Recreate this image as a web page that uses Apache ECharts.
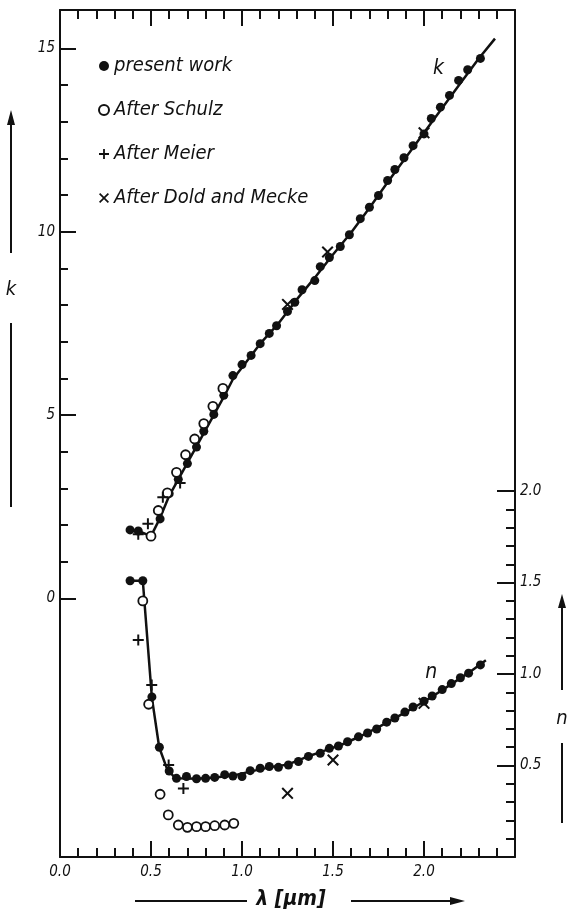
<!DOCTYPE html>
<html>
<head>
<meta charset="utf-8">
<title>k and n versus wavelength</title>
<script src="https://cdn.jsdelivr.net/npm/echarts@6/dist/echarts.min.js"></script>
<style>
  html, body { margin: 0; padding: 0; background: #fff; }
  #chart { width: 570px; height: 920px; }
</style>
</head>
<body>
<div id="chart"></div>
<script>
// wavelength in µm on x, k on the left scale, n on the right scale

// present work (filled dots)
const kPresent = [
  [0.385, 1.87], [0.43, 1.84], [0.50, 1.70], [0.55, 2.17], [0.60, 2.86], [0.65, 3.25],
  [0.70, 3.68], [0.75, 4.13], [0.79, 4.56], [0.845, 5.02], [0.90, 5.54], [0.95, 6.08],
  [1.00, 6.38], [1.05, 6.63], [1.10, 6.95], [1.15, 7.23], [1.19, 7.44], [1.25, 7.83],
  [1.29, 8.08], [1.33, 8.42], [1.40, 8.67], [1.43, 9.05], [1.48, 9.30], [1.54, 9.60],
  [1.59, 9.92], [1.65, 10.36], [1.70, 10.67], [1.75, 10.99], [1.80, 11.40], [1.84, 11.70],
  [1.89, 12.02], [1.94, 12.35], [2.00, 12.67], [2.04, 13.09], [2.09, 13.40], [2.14, 13.72],
  [2.19, 14.13], [2.24, 14.42], [2.31, 14.73]
];
const nPresent = [
  [0.385, 1.51], [0.455, 1.51], [0.505, 0.875], [0.546, 0.60], [0.60, 0.47], [0.64, 0.43],
  [0.695, 0.44], [0.75, 0.428], [0.80, 0.43], [0.85, 0.435], [0.905, 0.45], [0.95, 0.443],
  [1.00, 0.44], [1.045, 0.472], [1.10, 0.485], [1.15, 0.495], [1.20, 0.49], [1.255, 0.503],
  [1.31, 0.522], [1.365, 0.55], [1.43, 0.567], [1.48, 0.594], [1.53, 0.607], [1.58, 0.63],
  [1.64, 0.657], [1.69, 0.678], [1.74, 0.70], [1.795, 0.737], [1.84, 0.76], [1.895, 0.792],
  [1.94, 0.82], [2.00, 0.852], [2.045, 0.88], [2.10, 0.915], [2.15, 0.948], [2.20, 0.98],
  [2.245, 1.005], [2.31, 1.05]
];

// drawn curves through the present work
const kCurve = [
  [0.385, 1.87], [0.43, 1.84], [0.50, 1.70], [0.55, 2.20], [0.60, 2.80], [0.70, 3.70],
  [0.80, 4.60], [0.90, 5.50], [0.95, 5.98], [1.00, 6.30], [1.10, 6.95], [1.20, 7.50],
  [1.30, 8.15], [1.40, 8.75], [1.50, 9.38], [1.60, 9.98], [1.70, 10.65], [1.80, 11.35],
  [1.90, 12.03], [2.00, 12.70], [2.10, 13.38], [2.20, 14.05], [2.30, 14.72], [2.39, 15.27]
];
const nCurve = [
  [0.385, 1.51], [0.455, 1.51], [0.505, 0.87], [0.545, 0.60], [0.585, 0.49], [0.62, 0.445],
  [0.65, 0.43], [0.75, 0.428], [0.85, 0.435], [0.95, 0.445], [1.05, 0.468], [1.15, 0.49],
  [1.25, 0.505], [1.35, 0.545], [1.45, 0.58], [1.55, 0.615], [1.65, 0.66], [1.75, 0.71],
  [1.85, 0.765], [1.95, 0.82], [2.05, 0.88], [2.15, 0.945], [2.25, 1.01], [2.34, 1.075]
];

// After Schulz (open circles)
const kSchulz = [
  [0.50, 1.70], [0.54, 2.40], [0.59, 2.88], [0.64, 3.44], [0.69, 3.92],
  [0.74, 4.35], [0.79, 4.77], [0.84, 5.24], [0.895, 5.73]
];
const nSchulz = [
  [0.455, 1.40], [0.487, 0.835], [0.55, 0.343], [0.595, 0.23], [0.65, 0.175], [0.70, 0.162],
  [0.75, 0.166], [0.80, 0.166], [0.85, 0.171], [0.905, 0.175], [0.955, 0.184]
];

// After Meier (+)
const kMeier = [[0.43, 1.75], [0.483, 2.04], [0.565, 2.76], [0.66, 3.15]];
const nMeier = [[0.43, 1.186], [0.504, 0.94], [0.597, 0.503], [0.678, 0.375]];

// After Dold and Mecke (x)
const kDold = [[1.25, 8.02], [1.47, 9.45], [2.00, 12.70]];
const nDold = [[1.25, 0.348], [1.50, 0.53], [2.00, 0.84]];

// tick positions and labels
const kTicks = [0, 1, 2, 3, 4, 5, 6, 7, 8, 9, 10, 11, 12, 13, 14, 15];
const kLabels = [0, 5, 10, 15];
const nTicks = [0.1, 0.2, 0.3, 0.4, 0.5, 0.6, 0.7, 0.8, 0.9, 1.0,
                1.1, 1.2, 1.3, 1.4, 1.5, 1.6, 1.7, 1.8, 1.9, 2.0];
const nLabels = [0.5, 1.0, 1.5, 2.0];

const INK = '#111';
const FONT = '"Liberation Sans Narrow", "DejaVu Sans Condensed", "Liberation Sans", sans-serif';
const PLUS = 'path://M0,4.1H10V5.9H0Z M4.1,0H5.9V10H4.1Z';
const CROSS = 'path://M1.2,0L5,3.8L8.8,0L10,1.2L6.2,5L10,8.8L8.8,10L5,6.2L1.2,10L0,8.8L3.8,5L0,1.2Z';

const chart = echarts.init(document.getElementById('chart'), null, { renderer: 'canvas' });

function xAxisDef(pos, showLabel) {
  return {
    type: 'value', position: pos, min: 0, max: 2.5, interval: 0.5,
    axisLine: { show: true, onZero: false, lineStyle: { color: INK, width: 2 } },
    axisTick: { show: true, inside: true, length: 16, lineStyle: { color: INK, width: 2 } },
    minorTick: { show: true, splitNumber: 5, length: 9, lineStyle: { color: INK, width: 2 } },
    axisLabel: {
      show: showLabel, margin: 8, color: INK, fontSize: 15, fontStyle: 'italic', fontFamily: FONT,
      formatter: v => (v > 2.4 ? '' : v.toFixed(1))
    },
    splitLine: { show: false }, minorSplitLine: { show: false }
  };
}

function yAxisDef(pos, min, max, ticks, len, labels, lineShow, fmt) {
  return {
    type: 'value', position: pos, min: min, max: max,
    axisLine: { show: lineShow, onZero: false, lineStyle: { color: INK, width: 2 } },
    axisTick: { show: true, inside: true, length: len, customValues: ticks, lineStyle: { color: INK, width: 2 } },
    axisLabel: labels ? {
      show: true, customValues: labels, margin: 5, color: INK, fontSize: 15,
      fontStyle: 'italic', fontFamily: FONT, formatter: fmt
    } : { show: false },
    splitLine: { show: false }
  };
}

function dots(name, data, yIdx, symbol, size, style) {
  return {
    name: name, type: 'scatter', data: data, yAxisIndex: yIdx,
    symbol: symbol, symbolSize: size, itemStyle: style, z: 4, silent: true
  };
}

const filled = { color: INK, opacity: 1 };
const hollow = { color: '#fff', borderColor: INK, borderWidth: 1.8, opacity: 1 };

function curveLabel(txt, coord) {
  return {
    symbol: 'circle', symbolSize: 1, itemStyle: { color: 'rgba(0,0,0,0)' },
    data: [{ coord: coord }],
    label: { show: true, position: 'inside', formatter: txt, color: INK,
             fontSize: 21, fontStyle: 'italic', fontFamily: FONT }
  };
}

const option = {
  backgroundColor: '#fff',
  animation: false,
  grid: { left: 60, right: 55, top: 10, bottom: 63 },
  xAxis: [xAxisDef('bottom', true), xAxisDef('top', false)],
  yAxis: [
    yAxisDef('left', -7.05, 16.05, kTicks, 8, null, true),
    yAxisDef('left', -7.05, 16.05, kLabels, 16, kLabels, false, v => String(v)),
    yAxisDef('right', 0, 4.63, nTicks, 9, null, true),
    yAxisDef('right', 0, 4.63, nLabels, 18, nLabels, false, v => v.toFixed(1))
  ],
  legend: {
    orient: 'vertical', left: 93, top: 51,
    itemWidth: 10, itemHeight: 10, itemGap: 24,
    data: ['present work', 'After Schulz', 'After Meier', 'After Dold and Mecke'],
    textStyle: { color: INK, fontSize: 20, lineHeight: 20, fontStyle: 'italic', fontFamily: FONT },
    selectedMode: false
  },
  series: [
    {
      name: 'k curve', type: 'line', data: kCurve, yAxisIndex: 0, symbol: 'none',
      lineStyle: { color: INK, width: 2.5 }, z: 2, silent: true,
      markPoint: curveLabel('k', [2.08, 14.45])
    },
    {
      name: 'n curve', type: 'line', data: nCurve, yAxisIndex: 2, symbol: 'none',
      lineStyle: { color: INK, width: 2.5 }, z: 2, silent: true,
      markPoint: curveLabel('n', [2.04, 1.01])
    },
    dots('present work', kPresent, 0, 'circle', 9, filled),
    dots('present work', nPresent, 2, 'circle', 9, filled),
    dots('After Schulz', kSchulz, 0, 'circle', 9, hollow),
    dots('After Schulz', nSchulz, 2, 'circle', 9, hollow),
    dots('After Meier', kMeier, 0, PLUS, 11, filled),
    dots('After Meier', nMeier, 2, PLUS, 11, filled),
    dots('After Dold and Mecke', kDold, 0, CROSS, 12, filled),
    dots('After Dold and Mecke', nDold, 2, CROSS, 12, filled)
  ],
  graphic: [
    // left scale title: arrow, k, line
    { type: 'line', shape: { x1: 11, y1: 253, x2: 11, y2: 120 }, style: { stroke: INK, lineWidth: 2 } },
    { type: 'polygon', shape: { points: [[11, 110], [7, 125], [15, 125]] }, style: { fill: INK } },
    { type: 'text', x: 11, y: 290, style: { text: 'k', fill: INK, font: 'italic 20px ' + FONT, align: 'center', verticalAlign: 'middle' } },
    { type: 'line', shape: { x1: 11, y1: 323, x2: 11, y2: 507 }, style: { stroke: INK, lineWidth: 2 } },
    // right scale title
    { type: 'line', shape: { x1: 562, y1: 690, x2: 562, y2: 604 }, style: { stroke: INK, lineWidth: 2 } },
    { type: 'polygon', shape: { points: [[562, 594], [558, 608], [566, 608]] }, style: { fill: INK } },
    { type: 'text', x: 562, y: 719, style: { text: 'n', fill: INK, font: 'italic 20px ' + FONT, align: 'center', verticalAlign: 'middle' } },
    { type: 'line', shape: { x1: 562, y1: 743, x2: 562, y2: 823 }, style: { stroke: INK, lineWidth: 2 } },
    // bottom title
    { type: 'line', shape: { x1: 135, y1: 901, x2: 247, y2: 901 }, style: { stroke: INK, lineWidth: 2 } },
    { type: 'text', x: 291, y: 900, style: { text: 'λ [µm]', fill: INK, font: 'italic bold 21px ' + FONT, align: 'center', verticalAlign: 'middle' } },
    { type: 'line', shape: { x1: 351, y1: 901, x2: 452, y2: 901 }, style: { stroke: INK, lineWidth: 2 } },
    { type: 'polygon', shape: { points: [[465, 901], [450, 897], [450, 905]] }, style: { fill: INK } }
  ]
};

chart.setOption(option);
</script>
</body>
</html>
